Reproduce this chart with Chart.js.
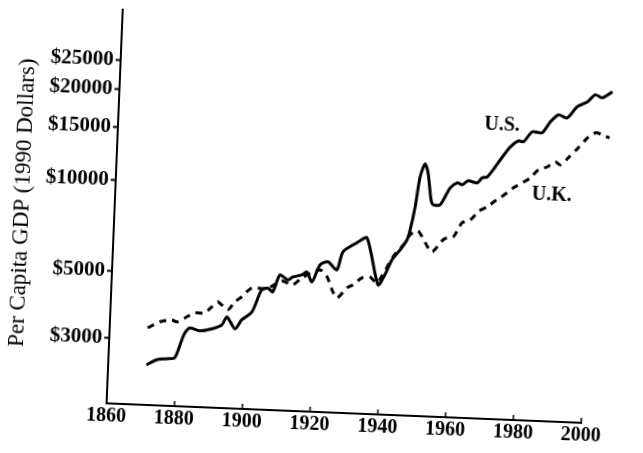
<!DOCTYPE html>
<html>
<head>
<meta charset="utf-8">
<script src="https://cdn.jsdelivr.net/npm/chart.js@4.4.1/dist/chart.umd.min.js"></script>
<style>
  html, body { margin: 0; padding: 0; background: #fff; overflow: hidden; }
  #wrap { width: 643px; height: 453px; transform: rotate(2.35deg); transform-origin: 50% 50%; }
</style>
</head>
<body>
<div id="wrap"><canvas id="gdp-chart" width="643" height="453"></canvas></div>
<script>
// datos (años en la escala del eje, PIB per capita en dolares de 1990)
const usYears = [1871.3, 1874.2, 1877.2, 1879.5, 1881.4, 1882.2, 1883.6, 1886.5, 1890.1, 1893.0,
  1894.4, 1896.9, 1898.8, 1901.7, 1904.3, 1906.1, 1907.6, 1909.5, 1911.9, 1913.3,
  1916.0, 1917.4, 1919.0, 1921.2, 1923.5, 1926.2, 1927.8, 1931.8, 1934.7, 1938.5,
  1940.4, 1942.3, 1944.6, 1946.5, 1947.3, 1948.5, 1949.6, 1950.9, 1951.9, 1953.1,
  1953.8, 1955.8, 1957.2, 1958.6, 1960.6, 1962.1, 1963.8, 1966.5, 1967.9, 1969.4,
  1971.6, 1973.0, 1975.8, 1978.1, 1979.6, 1982.1, 1985.0, 1987.3, 1989.6, 1992.2,
  1995.0, 1998.0, 2000.2, 2002.3, 2005.2];
const usGdp = [2465, 2570, 2600, 2625, 3017, 3184, 3313, 3250, 3311, 3423,
  3645, 3334, 3580, 3815, 4525, 4600, 4475, 5105, 4923, 5045,
  5140, 5265, 4886, 5575, 5725, 5400, 6210, 6680, 6955, 4880,
  5275, 5930, 6410, 6930, 7495, 8940, 11245, 12445, 11640, 9480,
  9140, 9155, 9750, 10450, 10880, 10740, 11090, 10950, 11400, 11500,
  12440, 13145, 14560, 15280, 15200, 16440, 16370, 17840, 18870, 18490,
  20170, 21030, 22240, 21780, 22870];

const ukYears = [1871.2, 1874.7, 1878.2, 1879.7, 1882.6, 1884.9, 1887.8, 1889.8, 1891.5, 1894.6,
  1896.5, 1898.5, 1901.4, 1905.8, 1910.1, 1913.4, 1916.0, 1921.2, 1923.4, 1925.3,
  1926.6, 1929.4, 1931.1, 1933.7, 1936.0, 1938.2, 1942.6, 1946.0, 1947.3, 1949.6,
  1951.9, 1954.0, 1957.4, 1960.1, 1962.5, 1964.9, 1967.4, 1969.7, 1972.0, 1973.5,
  1977.2, 1982.1, 1984.3, 1986.9, 1989.2, 1990.7, 1993.0, 1995.8, 1998.4, 2000.7,
  2002.8, 2004.9];
const ukGdp = [3270, 3435, 3500, 3452, 3600, 3720, 3730, 3915, 4075, 3850,
  4095, 4263, 4580, 4570, 4880, 4750, 5025, 5370, 5100, 4560,
  4360, 4720, 4840, 5120, 5170, 4950, 6070, 6780, 7215, 7460,
  6825, 6380, 7065, 7200, 8035, 8240, 8850, 9150, 9600, 9840,
  10660, 11570, 12330, 12640, 13180, 12890, 13630, 14760, 15970, 16640,
  16420, 16070];

const yTicks = [3000, 5000, 10000, 15000, 20000, 25000];
const xTicks = [1860, 1880, 1900, 1920, 1940, 1960, 1980, 2000];
const seriesNames = ['U.S.', 'U.K.'];
const namePlaceYears = [1973.1, 1988.6];
const namePlaceValues = [17130, 10210];

const toPoints = (xs, ys) => xs.map((x, i) => ({ x: x, y: ys[i] }));

// marcas del eje x hacia dentro + nombres de las series
const extras = {
    id: 'extras',
    afterDraw(chart) {
        const { ctx, scales: { x, y } } = chart;
        ctx.save();
        ctx.strokeStyle = '#000';
        ctx.lineWidth = 1.5;
        xTicks.forEach(v => {
            if (v === xTicks[0]) return;
            const px = x.getPixelForValue(v);
            ctx.beginPath();
            ctx.moveTo(px, x.top);
            ctx.lineTo(px, x.top - 5);
            ctx.stroke();
        });
        ctx.fillStyle = '#000';
        ctx.font = 'bold 20px "Liberation Serif"';
        ctx.textAlign = 'center';
        ctx.textBaseline = 'middle';
        seriesNames.forEach((name, i) => {
            ctx.fillText(name, x.getPixelForValue(namePlaceYears[i]), y.getPixelForValue(namePlaceValues[i]));
        });
        ctx.restore();
    }
};

const ctx = document.getElementById('gdp-chart').getContext('2d');
const gdpChart = new Chart(ctx, {
    type: 'line',
    data: {
        datasets: [
            { label: seriesNames[0], data: toPoints(usYears, usGdp), borderColor: '#000', borderWidth: 3,
              pointRadius: 0, tension: 0.25, clip: false },
            { label: seriesNames[1], data: toPoints(ukYears, ukGdp), borderColor: '#000', borderWidth: 3,
              borderDash: [7, 6], pointRadius: 0, tension: 0.25, clip: false }
        ]
    },
    options: {
        responsive: false, animation: false,
        layout: { autoPadding: false, padding: { top: 18, right: 54, left: 0, bottom: 0 } },
        plugins: { legend: { display: false }, tooltip: { enabled: false } },
        scales: {
            x: {
                type: 'linear',
                // el eje acaba en 2000 pero las lineas siguen un poco mas, como en el original
                afterDataLimits: s => { s.min = 1860; s.max = 2000; },
                grid: { display: true, drawOnChartArea: false, drawTicks: false },
                border: { display: true, color: '#000', width: 2 },
                afterBuildTicks: s => { s.ticks = xTicks.map(v => ({ value: v })); },
                afterFit: s => { s.height = 41; },
                ticks: {
                    color: '#000', padding: 1, maxRotation: 0, autoSkip: false,
                    font: { family: 'Liberation Serif', weight: 'bold', size: 20 },
                    callback: v => String(v)
                }
            },
            y: {
                type: 'logarithmic', min: 1816, max: 36700,
                grid: { display: true, drawOnChartArea: false, drawTicks: true, tickLength: 5, tickColor: '#000', tickWidth: 2 },
                border: { display: true, color: '#000', width: 2 },
                afterBuildTicks: s => { s.ticks = yTicks.map(v => ({ value: v })); },
                afterFit: s => { s.width = 114; },
                title: {
                    display: true, text: 'Per Capita GDP (1990 Dollars)', color: '#000',
                    font: { family: 'Liberation Serif', size: 23 }, padding: { top: 8, bottom: 0 }
                },
                ticks: {
                    color: '#000', padding: 2, autoSkip: false,
                    font: { family: 'Liberation Serif', weight: 'bold', size: 21 },
                    callback: v => '$' + v
                }
            }
        }
    },
    plugins: [extras]
});
</script>
</body>
</html>
